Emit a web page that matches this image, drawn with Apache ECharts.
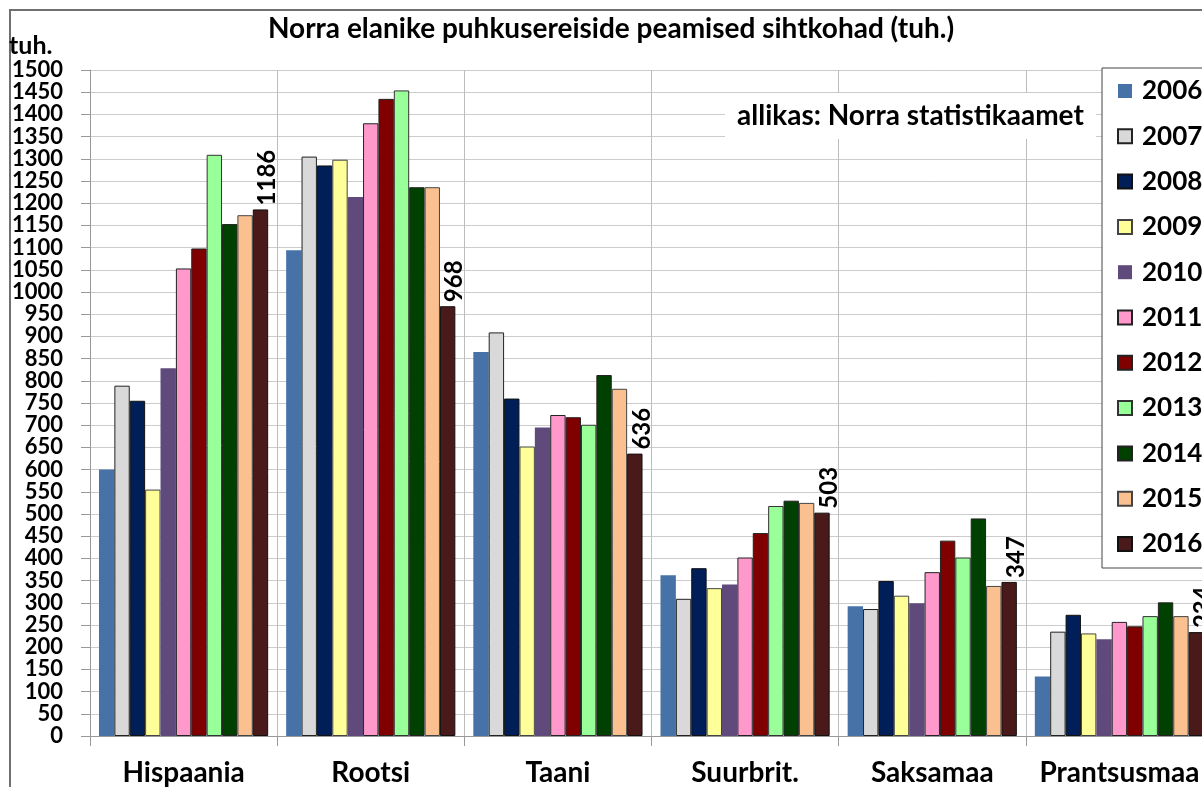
<!DOCTYPE html>
<html>
<head>
<meta charset="utf-8">
<script src="https://cdn.jsdelivr.net/npm/echarts@6/dist/echarts.min.js"></script>
<style>
html,body{margin:0;padding:0;background:#fff;overflow:hidden;width:1202px;height:787px;}
#c{width:1225px;height:787px;}
</style>
</head>
<body>
<div id="c"></div>
<script>
const titleText = 'Norra elanike puhkusereiside peamised sihtkohad (tuh.)';
const sourceText = 'allikas: Norra statistikaamet';
const unitText = 'tuh.';
const categories = ['Hispaania', 'Rootsi', 'Taani', 'Suurbrit.', 'Saksamaa', 'Prantsusmaa'];
const years = ['2006','2007','2008','2009','2010','2011','2012','2013','2014','2015','2016'];
const colors = ['#4672A8','#D9D9D9','#001F59','#FFFF99','#604A7B','#FF99CC','#800000','#99FF99','#004000','#FAC090','#4A1A1A'];
const borders = [null,'#222','#111','#444',null,'#222','#222','#333','#222','#444','#111'];
const v2006 = [600, 1094, 865, 362, 292, 134];
const v2007 = [789, 1305, 909, 309, 286, 235];
const v2008 = [755, 1285, 760, 378, 349, 273];
const v2009 = [555, 1298, 652, 333, 316, 231];
const v2010 = [828, 1214, 695, 341, 299, 218];
const v2011 = [1053, 1380, 723, 402, 369, 257];
const v2012 = [1098, 1435, 718, 457, 440, 247];
const v2013 = [1309, 1454, 701, 518, 402, 270];
const v2014 = [1153, 1236, 813, 530, 490, 301];
const v2015 = [1173, 1236, 782, 525, 338, 270];
const v2016 = [1186, 968, 636, 503, 347, 234];
const seriesValues = [v2006,v2007,v2008,v2009,v2010,v2011,v2012,v2013,v2014,v2015,v2016];

const FONT = 'Lato, "Liberation Sans", sans-serif';
const chart = echarts.init(document.getElementById('c'), null, {renderer:'canvas', width: 1225, height: 787});

const series = years.map((y, i) => {
  const s = {
    name: y,
    type: 'bar',
    data: seriesValues[i],
    barGap: '0%',
    barCategoryGap: '9.6%',
    itemStyle: {
      color: colors[i],
      borderColor: borders[i] || colors[i],
      borderWidth: borders[i] ? 1 : 0
    },
    emphasis: {disabled: true},
    animation: false
  };
  if (i === years.length - 1) {
    s.label = {
      show: true,
      position: 'top',
      rotate: 90,
      align: 'left',
      verticalAlign: 'middle',
      distance: 4,
      offset: [0, 7],
      fontFamily: FONT,
      fontWeight: 'bold',
      fontSize: 24,
      color: '#000'
    };
  }
  return s;
});

chart.setOption({
  backgroundColor: '#fff',
  animation: false,
  title: [
    {
      text: titleText,
      left: 611, top: 15, textAlign: 'center',
      padding: 0,
      textStyle: {fontFamily: FONT, fontWeight: 'bold', fontSize: 28, color: '#000'}
    },
    {
      text: unitText,
      left: 9, top: 33,
      padding: 0,
      textStyle: {fontFamily: FONT, fontWeight: 'bold', fontSize: 25, color: '#000'}
    },
    {
      text: sourceText,
      left: 725, top: 93,
      padding: [9, 12, 9, 12],
      backgroundColor: '#fff',
      textStyle: {fontFamily: FONT, fontWeight: 'bold', fontSize: 28, color: '#000'}
    }
  ],
  legend: {
    orient: 'vertical',
    left: 1102, top: 68,
    data: years,
    icon: 'rect',
    itemWidth: 14, itemHeight: 14,
    itemGap: 17.3,
    padding: [9, 10, 10, 15],
    borderColor: '#444', borderWidth: 1,
    backgroundColor: '#fff',
    textStyle: {fontFamily: FONT, fontWeight: 'bold', fontSize: 26, color: '#000', lineHeight: 28, padding: [0,0,0,5]},
    selectedMode: false
  },
  grid: {left: 90, top: 70, width: 1123, height: 674, containLabel: false},
  xAxis: {
    type: 'category',
    data: categories,
    boundaryGap: true,
    axisLine: {show: true, lineStyle: {color: '#999', width: 1}},
    axisTick: {show: true, length: 10, alignWithLabel: false, lineStyle: {color: '#999'}},
    splitLine: {show: true, lineStyle: {color: '#bdbdbd', width: 1}},
    axisLabel: {margin: 23, fontFamily: FONT, fontWeight: 'bold', fontSize: 28, color: '#000', interval: 0}
  },
  yAxis: {
    type: 'value',
    min: 0, max: 1500, interval: 50,
    axisLine: {show: true, lineStyle: {color: '#999', width: 1}},
    axisTick: {show: true, length: 9, lineStyle: {color: '#999'}},
    splitLine: {show: true, lineStyle: {color: '#cccccc', width: 1}},
    axisLabel: {margin: 27, fontFamily: FONT, fontWeight: 'bold', fontSize: 22, color: '#000', formatter: v => String(v)}
  },
  graphic: [
    {
      type: 'rect',
      z: -10,
      silent: true,
      shape: {x: 10, y: 10, width: 1400, height: 1000},
      style: {fill: null, stroke: '#707070', lineWidth: 2}
    }
  ],
  series: series
});
</script>
</body>
</html>
